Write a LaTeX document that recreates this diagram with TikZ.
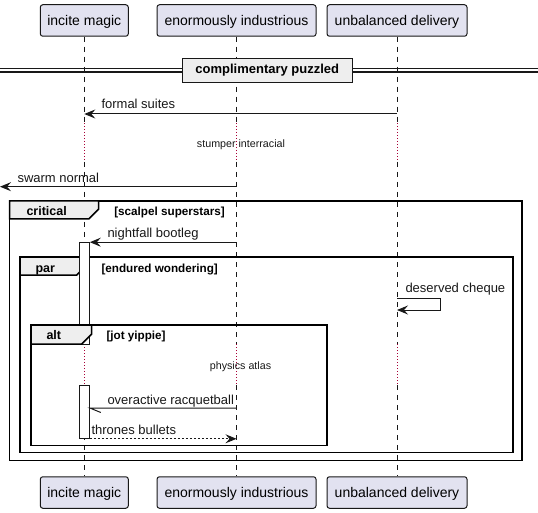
\documentclass[tikz,border=0pt]{standalone}
\usepackage{fontspec}
\setmainfont{Liberation Sans}
\usetikzlibrary{arrows.meta}
\definecolor{ln}{HTML}{181818}
\definecolor{partfill}{HTML}{E2E2F0}
\definecolor{tabfill}{HTML}{EEEEEE}
\definecolor{delaycol}{HTML}{A80036}
\tikzset{
	every picture/.style={line width=1pt},
	part/.style={draw=ln, fill=partfill, rounded corners=2.5pt, minimum width=#1, minimum height=31.5pt,
		inner sep=0pt, text height=11pt, text depth=1pt, font=\fontsize{14}{16}\selectfont},
	lifeline/.style={draw=ln, line width=0.5pt, dash pattern=on 5pt off 5pt},
	delayline/.style={draw=delaycol, line width=1pt, dash pattern=on 1pt off 2pt},
	msg/.style={draw=ln, line width=1pt, -{Stealth[length=11pt,width=9pt,inset=4pt]}},
	lbl/.style={anchor=base west, inner sep=0pt, text=ln, font=\fontsize{13}{15}\selectfont},
	delaylbl/.style={anchor=base, inner sep=0pt, text=ln, font=\fontsize{10.7}{12}\selectfont},
	frame/.style={draw=black, line width=1.5pt},
	tablbl/.style={anchor=base west, inner sep=0pt, font=\bfseries\fontsize{12.5}{15}\selectfont},
	guard/.style={anchor=base west, inner sep=0pt, font=\bfseries\fontsize{11.7}{13}\selectfont},
	actbox/.style={draw=ln, fill=white, line width=1pt, minimum width=10pt, inner sep=0pt, minimum height=#1}
}

\begin{document}
\begin{tikzpicture}[x=1pt,y=-1pt]
	\useasboundingbox (0,0) rectangle (538,513);
	%Participants
	\node[part=88pt] (im) at (84.3,20.5) {incite magic};
	\node[part=159pt] (ei) at (236.5,20.5) {enormously industrious};
	\node[part=140pt] (ud) at (397,20.5) {unbalanced delivery};
	\node[part=88pt] (im-b) at (84.3,492.5) {incite magic};
	\node[part=159pt] (ei-b) at (236.5,492.5) {enormously industrious};
	\node[part=140pt] (ud-b) at (397,492.5) {unbalanced delivery};
	%Lifelines
	\foreach \p in {im,ei,ud}{
		\draw[lifeline] (\p.south) -- (\p |- 0,123);
		\draw[delayline] (\p |- 0,123) -- (\p |- 0,162);
		\draw[lifeline] (\p |- 0,162) -- (\p |- 0,344);
		\draw[delayline] (\p |- 0,344) -- (\p |- 0,385);
		\draw[lifeline] (\p |- 0,385) -- (\p-b.north);
	}
	%Divider
	\draw[ln, line width=1.2pt] (0,68.7) -- (538,68.7);
	\draw[ln, line width=1.2pt] (0,72) -- (538,72);
	\node[draw=ln, line width=1.5pt, fill=tabfill, minimum width=170pt, minimum height=24pt, inner sep=0pt,
		font=\bfseries\fontsize{13}{15}\selectfont] (div) at (267.3,70.5) {complimentary puzzled};
	%Message 1
	\draw[msg] (ud |- 0,114) -- (im |- 0,114);
	\node[lbl] (m1) at (101,109) {formal suites};
	%Delay 1
	\node[delaylbl] (d1) at (241,147.5) {stumper interracial};
	%Message 2
	\coordinate (edge) at (0,186.7);
	\draw[msg] (ei |- edge) -- (edge);
	\node[lbl] (m2) at (17,182.5) {swarm normal};
	%Frame critical
	\draw[frame] (9.5,201) rectangle (522,460.5);
	\draw[frame, fill=tabfill] (9.5,201) -- (98.7,201) -- (98.7,209) -- (88.7,219) -- (9.5,219) -- cycle;
	\node[tablbl] (crit) at (26,215.5) {critical};
	\node[guard] (crit-g) at (113.8,215) {[scalpel superstars]};
	%Frame par
	\draw[frame] (20,257) rectangle (513,452.7);
	\draw[frame, fill=tabfill] (20,257) -- (86.7,257) -- (86.7,265) -- (76.7,275) -- (20,275) -- cycle;
	\node[tablbl] (par) at (35,272.5) {par};
	\node[guard] (par-g) at (101,272) {[endured wondering]};
	%Activations
	\node[actbox=101.3pt] (act1) at (84.3,293.35) {};
	\node[actbox=52.6pt] (act2) at (84.3,412) {};
	%Message 3
	\draw[msg] (ei |- act1.north) -- (act1.north east);
	\node[lbl] (m3) at (107,237) {nightfall bootleg};
	%Message 4
	\draw[msg] (ud |- 0,298) -- ++(43,0) -- ++(0,12) -- (ud |- 0,310);
	\node[lbl] (m4) at (405,292.5) {deserved cheque};
	%Frame alt
	\draw[frame] (31,325) rectangle (327,445.7);
	\draw[frame, fill=tabfill] (31,325) -- (91.7,325) -- (91.7,334) -- (81.7,344) -- (31,344) -- cycle;
	\node[tablbl] (alt) at (46,339) {alt};
	\node[guard] (alt-g) at (106,339) {[jot yippie]};
	%Delay 2
	\node[delaylbl] (d2) at (240.5,369.3) {physics atlas};
	%Message 5
	\draw[ln] (ei |- 0,408) -- (act2.east |- 0,408) -- ++(11,4.5);
	\node[lbl] (m5) at (107,404) {overactive racquetball};
	%Message 6
	\draw[msg, dash pattern=on 2pt off 2pt] (act2.south east) -- (ei |- act2.south);
	\node[lbl] (m6) at (91,434) {thrones bullets};
\end{tikzpicture}
\end{document}
